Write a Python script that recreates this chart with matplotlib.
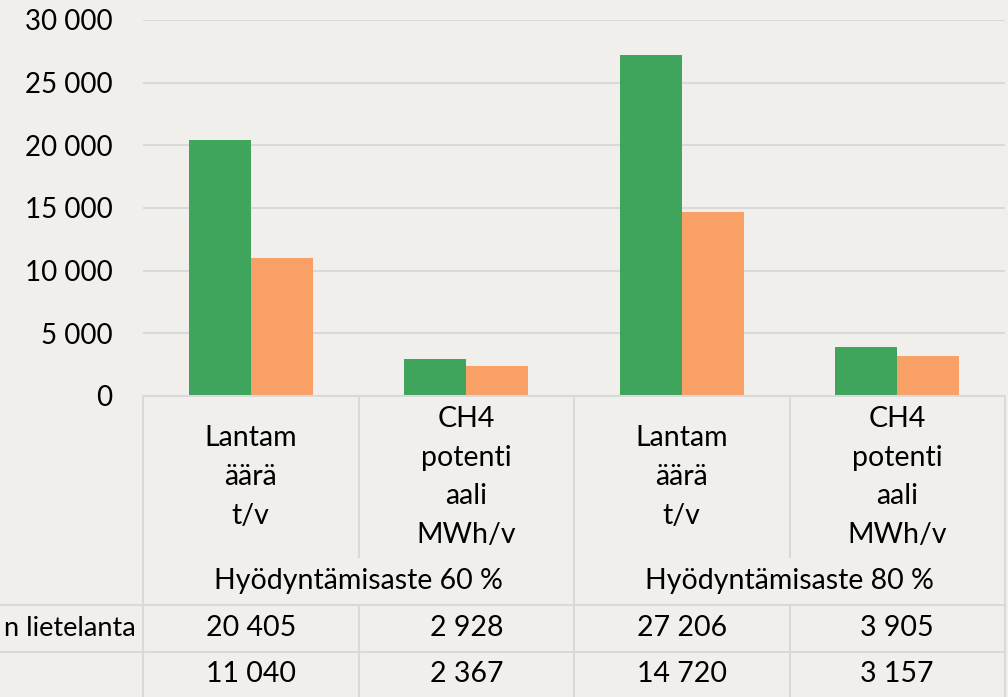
import matplotlib.pyplot as plt
from matplotlib.lines import Line2D

# chart data
sub_labels = ["Lantam\näärä\nt/v", "CH4\npotenti\naali\nMWh/v",
              "Lantam\näärä\nt/v", "CH4\npotenti\naali\nMWh/v"]
group_labels = ["Hyödyntämisaste 60 %", "Hyödyntämisaste 80 %"]
series_names = ["n lietelanta", ""]
series_a = [20405, 2928, 27206, 3905]
series_b = [11040, 2367, 14720, 3157]
yticks = [0, 5000, 10000, 15000, 20000, 25000, 30000]

bg = "#F0EFEB"
green = "#3FA45C"
orange = "#F9A066"
grid = "#D9D9D9"

plt.rcParams['font.family'] = ['Lato', 'DejaVu Sans']

W, H = 1008, 697
fig = plt.figure(figsize=(W / 100, H / 100), dpi=100, facecolor=bg)

x0, x1 = 143, 1005
y_top, y_base = 20, 396
ax = fig.add_axes([x0 / W, 1 - y_base / H, (x1 - x0) / W, (y_base - y_top) / H])
ax.set_facecolor(bg)

def fmt(v):
    return f"{v:,}".replace(",", " ")

n = len(series_a)
xs = list(range(n))
w = 0.288
ax.bar([x - w / 2 for x in xs], series_a, width=w, color=green, zorder=2)
ax.bar([x + w / 2 for x in xs], series_b, width=w, color=orange, zorder=2)
ax.set_xlim(-0.5, n - 0.5)
ax.set_ylim(0, 30000)
ax.set_yticks(yticks)
ax.set_yticklabels([fmt(t) for t in yticks], fontsize=20)
ax.tick_params(axis="y", length=0, pad=22)
ax.tick_params(axis="x", bottom=False, labelbottom=False)
ax.grid(axis="y", color=grid, linewidth=1.5, zorder=0)
for s in ax.spines.values():
    s.set_visible(False)

# data table below the plot, x shared with the bars, y in pixel rows from the top
tab = fig.add_axes([x0 / W, 0, (x1 - x0) / W, (H - y_base) / H], sharex=ax)
tab.set_facecolor("none")
tab.set_ylim(H, y_base)
tab.axis("off")
lc = dict(color=grid, linewidth=1.5, clip_on=False)

tab.plot([-0.5, n - 0.5], [y_base, y_base], **lc)
for xb in [-0.5, 1.5, n - 0.5]:
    tab.plot([xb, xb], [y_base, H], **lc)
for xb in [0.5, 2.5]:
    tab.plot([xb, xb], [y_base, 557], **lc)
    tab.plot([xb, xb], [605, H], **lc)
for yb in [605, 652]:
    line = Line2D([0, x1 / W], [1 - yb / H, 1 - yb / H], transform=fig.transFigure,
                  color=grid, linewidth=1.5)
    fig.add_artist(line)

for x, lab in zip(xs, sub_labels):
    tab.text(x, 477, lab, ha="center", va="center", fontsize=20.5, linespacing=1.6)
for g, lab in enumerate(group_labels):
    tab.text(2 * g + 0.5, 581, lab, ha="center", va="center", fontsize=20.5)

for row, (name, vals) in enumerate([(series_names[0], series_a), (series_names[1], series_b)]):
    yc = 628 + row * 46
    fig.text(136 / W, 1 - yc / H, name, ha="right", va="center", fontsize=19.5)
    for x, v in zip(xs, vals):
        tab.text(x, yc, fmt(v), ha="center", va="center", fontsize=20.5)

fig.savefig("out.png", dpi=100, facecolor=bg)
